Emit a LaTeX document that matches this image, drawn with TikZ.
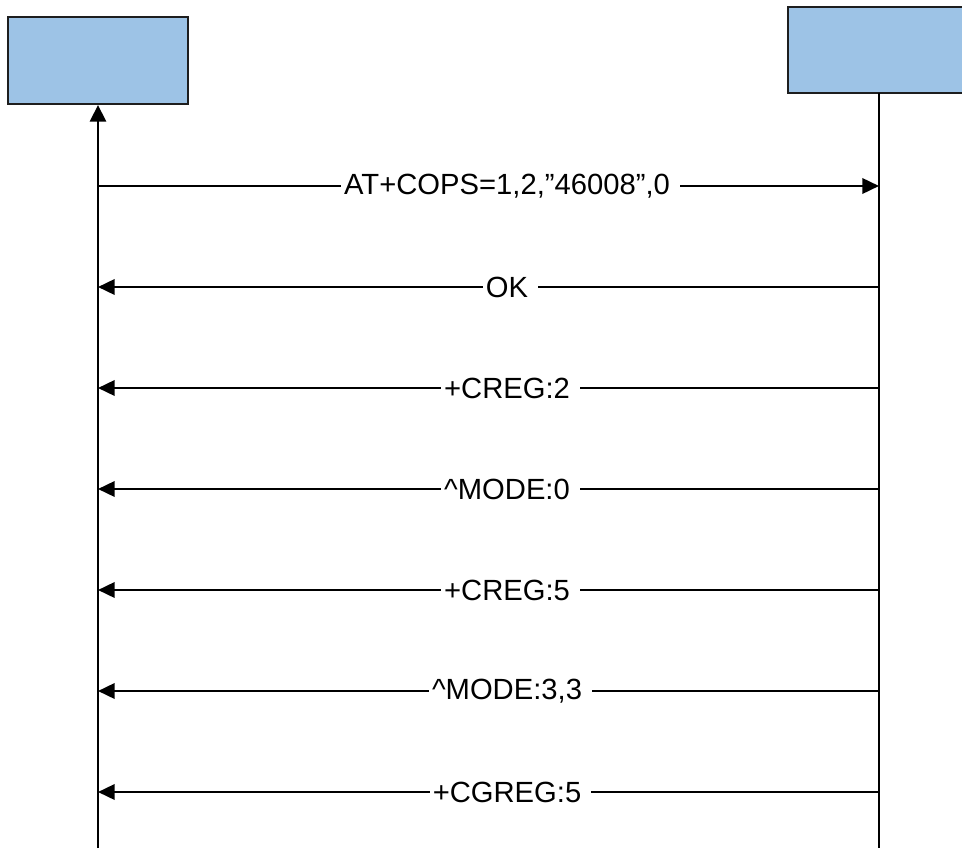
\documentclass[tikz,border=0pt]{standalone}
\usepackage{fontspec}
\setmainfont{Liberation Sans}
\usetikzlibrary{arrows.meta}
\definecolor{boxblue}{RGB}{157,195,230}
\definecolor{boxedge}{RGB}{30,30,30}
\tikzset{
  entitybox/.style={
    draw=boxedge,
    fill=boxblue,
    line width=1.5pt
  },
  lifeline/.style={
    draw=black,
    line width=1.3pt
  },
  msgarrow/.style={
    draw=black,
    line width=1.9pt,
    -{Triangle[length=12.5pt,width=11.5pt]}
  },
  msglabel/.style={
    fill=white,
    inner xsep=0pt,
    inner ysep=1pt,
    font=\fontsize{21.9pt}{26pt}\selectfont
  }
}

\begin{document}
\begin{tikzpicture}[x=0.75pt,y=-0.75pt]

  % Page frame in pixel units, y pointing down.
  \useasboundingbox (0,0) rectangle (962,848);

  % The two communicating parties.
  \path[entitybox] (8,17) rectangle (188,104);
  \path[entitybox] (788,7) rectangle (975,93);

  % Lifeline end points.
  \coordinate (Lbot) at (98,848);
  \coordinate (Ltop) at (98,105);
  \coordinate (Rtop) at (879,93);
  \coordinate (Rbot) at (879,848);

  % Lifelines; the left one ends with an arrow at its box.
  \draw[lifeline,line width=2.2pt,-{Triangle[length=12.5pt,width=12pt]}] (Lbot) -- (Ltop);
  \draw[lifeline] (Rtop) -- (Rbot);

  % Command sent to the module.
  \coordinate (L1) at (98,186);
  \coordinate (R1) at (879,186);
  \draw[msgarrow] (L1) -- (R1);
  \node[msglabel] (m1) at (510.5,186)
    {\kern2.25pt AT+COPS=1,2,”46008”,0\kern7.5pt};

  % Responses and unsolicited reports from the module.
  \foreach \i/\y/\txt in {2/287/OK,3/388/+CREG:2,4/489/\textasciicircum MODE:0,
      5/590/+CREG:5,6/691/{\textasciicircum MODE:3,3},7/792/+CGREG:5}{
    \coordinate (R\i) at (879,\y);
    \coordinate (L\i) at (98,\y);
    \draw[msgarrow] (R\i) -- (L\i);
    \node[msglabel] (m\i) at (510.5,\y) {\kern2.25pt\txt\kern7.5pt};
  }

\end{tikzpicture}
\end{document}
